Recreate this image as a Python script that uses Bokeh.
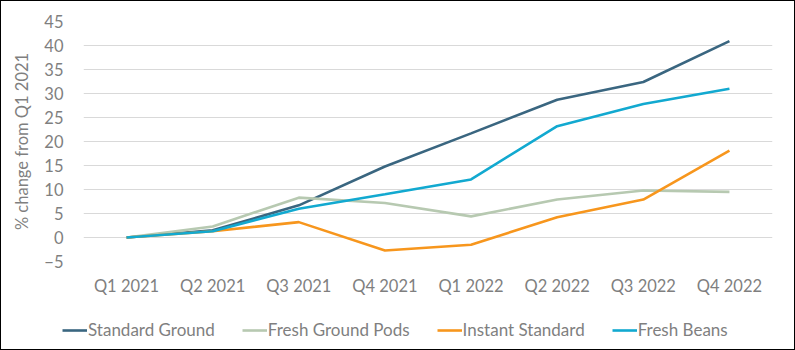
from bokeh.plotting import figure
from bokeh.layouts import column
from bokeh.models import Legend, LegendItem, Range1d, FixedTicker
from bokeh.embed import file_html
from bokeh.resources import INLINE

quarters = ["Q1 2021", "Q2 2021", "Q3 2021", "Q4 2021", "Q1 2022", "Q2 2022", "Q3 2022", "Q4 2022"]
standard_ground = [0, 1.5, 6.7, 14.8, 21.7, 28.7, 32.4, 40.9]
fresh_ground_pods = [0, 2.3, 8.3, 7.2, 4.4, 7.9, 9.8, 9.5]
instant_standard = [0, 1.3, 3.2, -2.7, -1.5, 4.2, 7.9, 18.1]
fresh_beans = [0, 1.3, 6.0, 9.0, 12.1, 23.2, 27.8, 31.0]
y_ticks = [-5, 0, 5, 10, 15, 20, 25, 30, 35, 40, 45]

series = [
    ("Standard Ground", standard_ground, "#3A6680"),
    ("Fresh Ground Pods", fresh_ground_pods, "#B7C9B1"),
    ("Instant Standard", instant_standard, "#F7961D"),
    ("Fresh Beans", fresh_beans, "#12A9D0"),
]

FONT = "Lato"
GRAY = "#7F7F7F"
FS = "16.5px"

p = figure(width=793, height=304, x_range=quarters, y_range=Range1d(-5, 45),
           output_backend="svg", toolbar_location=None,
           min_border_left=82, min_border_right=22, min_border_top=20, min_border_bottom=44)
p.frame_align = False
p.outline_line_color = None
p.xgrid.grid_line_color = None
p.ygrid.grid_line_color = "#D9D9D9"
p.ygrid.grid_line_width = 1

for name, vals, col in series:
    p.line(quarters, vals, line_color=col, line_width=2.6)

p.yaxis.ticker = FixedTicker(ticks=y_ticks)
for ax in (p.xaxis, p.yaxis):
    ax.axis_line_color = None
    ax.major_tick_line_color = None
    ax.minor_tick_line_color = None
    ax.major_label_text_font = FONT
    ax.major_label_text_font_size = FS
    ax.major_label_text_color = GRAY
p.yaxis.major_label_standoff = 14
p.xaxis.major_label_standoff = 8
p.yaxis.axis_label = "% change from Q1 2021"
p.yaxis.axis_label_text_font = FONT
p.yaxis.axis_label_text_font_size = FS
p.yaxis.axis_label_text_font_style = "normal"
p.yaxis.axis_label_text_color = GRAY
p.yaxis.axis_label_standoff = 9

# legend strip below the chart (same series, drawn out of view)
lg = figure(width=793, height=44, x_range=p.x_range, y_range=Range1d(1000, 1001),
            output_backend="svg", toolbar_location=None,
            x_axis_location=None, y_axis_location=None,
            min_border_left=0, min_border_right=0, min_border_top=0, min_border_bottom=0)
lg.frame_align = False
lg.outline_line_color = None
lg.grid.grid_line_color = None
items = []
for name, vals, col in series:
    r = lg.line(quarters, vals, line_color=col, line_width=2.6)
    items.append(LegendItem(label=name, renderers=[r]))

legend = Legend(items=items, orientation="horizontal", location=(61, 9),
                glyph_width=25, glyph_height=20, label_standoff=1, spacing=27,
                label_text_font=FONT, label_text_font_size="17px", label_text_color=GRAY,
                background_fill_alpha=0, border_line_color=None, padding=0, margin=0)
lg.add_layout(legend, "center")

layout = column(p, lg, spacing=0, styles={"border": "1px solid black"})

open("out.html", "w").write(file_html(layout, INLINE))
